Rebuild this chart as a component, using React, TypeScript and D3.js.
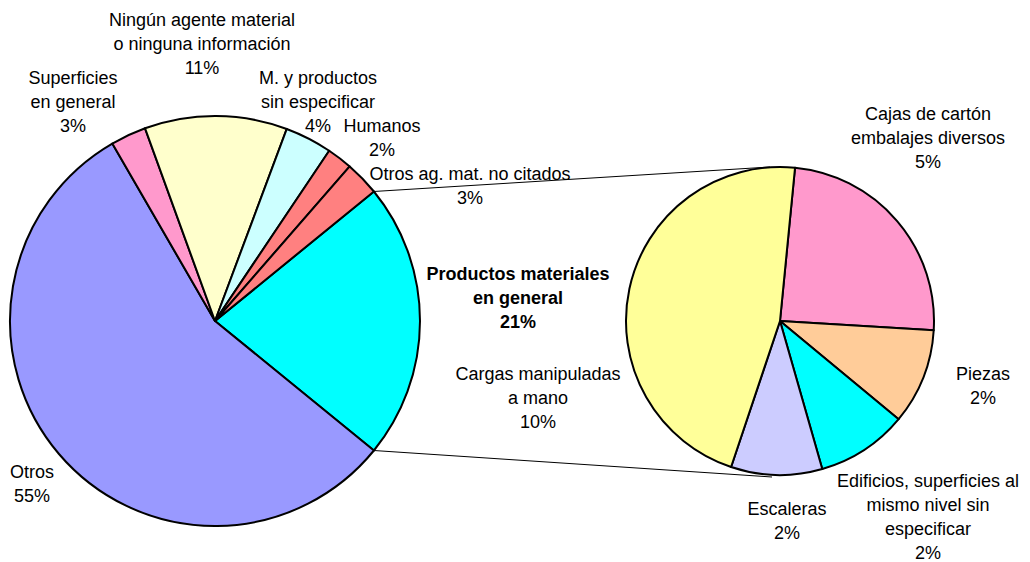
import React from "react";
import * as d3 from "d3";

// Main pie (clockwise from the split slice)
const mainCategories = [
  "Productos materiales en general",
  "Otros",
  "Superficies en general",
  "Ningún agente material o ninguna información",
  "M. y productos sin especificar",
  "Humanos",
  "Otros ag. mat. no citados",
];
const mainValues = [21.7, 55.6, 2.8, 11.2, 3.7, 2.0, 2.7];
const mainColors = ["#00FFFF", "#9999FF", "#FF99CC", "#FFFFCC", "#CCFFFF", "#FF8080", "#FF8080"];

// Secondary pie (breakdown of "Productos materiales en general")
const subCategories = [
  "Cajas de cartón embalajes diversos",
  "Piezas",
  "Edificios, superficies al mismo nivel sin especificar",
  "Escaleras",
  "Cargas manipuladas a mano",
];
const subValues = [5.1, 2.1, 2.0, 2.0, 9.7];
const subColors = ["#FF99CC", "#FFCC99", "#00FFFF", "#CCCCFF", "#FFFF99"];

// Label texts (lines) and anchor positions
const mainLabels = [
  { lines: ["Productos materiales", "en general", "21%"], x: 518, y: 280, bold: true },
  { lines: ["Otros", "55%"], x: 32, y: 478 },
  { lines: ["Superficies", "en general", "3%"], x: 73, y: 84 },
  { lines: ["Ningún agente material", "o ninguna información", "11%"], x: 202, y: 26 },
  { lines: ["M. y productos", "sin especificar", "4%"], x: 318, y: 84 },
  { lines: ["Humanos", "2%"], x: 382, y: 132 },
  { lines: ["Otros ag. mat. no citados", "3%"], x: 470, y: 180 },
];
const subLabels = [
  { lines: ["Cajas de cartón", "embalajes diversos", "5%"], x: 928, y: 120 },
  { lines: ["Piezas", "2%"], x: 983, y: 380 },
  { lines: ["Edificios, superficies al", "mismo nivel sin", "especificar", "2%"], x: 928, y: 487 },
  { lines: ["Escaleras", "2%"], x: 787, y: 515 },
  { lines: ["Cargas manipuladas", "a mano", "10%"], x: 538, y: 380 },
];

const W = 1030;
const H = 562;
const deg = Math.PI / 180;

export default function App() {
  const mainC = { x: 215, y: 321, r: 205 };
  const subC = { x: 780, y: 321, r: 154 };

  const totalMain = d3.sum(mainValues);
  const splitSpan = (mainValues[0] / totalMain) * 2 * Math.PI;
  const mainStart = Math.PI / 2 - splitSpan / 2;

  const mainPie = d3.pie<number>().sort(null).startAngle(mainStart).endAngle(mainStart + 2 * Math.PI);
  const subPie = d3.pie<number>().sort(null).startAngle(5.6 * deg).endAngle(5.6 * deg + 2 * Math.PI);

  const mainArcs = mainPie(mainValues);
  const subArcs = subPie(subValues);

  const mainArc = d3.arc<d3.PieArcDatum<number>>().innerRadius(0).outerRadius(mainC.r);
  const subArc = d3.arc<d3.PieArcDatum<number>>().innerRadius(0).outerRadius(subC.r);

  const pt = (c: { x: number; y: number; r: number }, a: number) => [
    c.x + c.r * Math.sin(a),
    c.y - c.r * Math.cos(a),
  ];
  const splitA = mainArcs[0];
  const p1 = pt(mainC, splitA.startAngle);
  const p2 = pt(mainC, splitA.endAngle);
  const q1 = [subC.x - 10, subC.y - subC.r];
  const q2 = [subC.x - 8, subC.y + subC.r + 2];

  const font = "'Liberation Sans', Arial, sans-serif";
  const renderLabel = (l: any, i: number) => (
    <text
      key={i}
      x={l.x}
      y={l.y}
      textAnchor="middle"
      fontFamily={font}
      fontSize={18}
      fontWeight={l.bold ? "bold" : "normal"}
      fill="#000"
    >
      {l.lines.map((s: string, j: number) => (
        <tspan key={j} x={l.x} y={l.y + j * 24}>
          {s}
        </tspan>
      ))}
    </text>
  );

  return (
    <svg
      width={W}
      height={H}
      style={{ position: "absolute", left: 0, top: 0, background: "#fff" }}
    >
      <rect width={W} height={H} fill="#fff" />
      <line x1={p1[0]} y1={p1[1]} x2={q1[0]} y2={q1[1]} stroke="#000" strokeWidth={1} />
      <line x1={p2[0]} y1={p2[1]} x2={q2[0]} y2={q2[1]} stroke="#000" strokeWidth={1} />
      <g transform={`translate(${mainC.x},${mainC.y})`}>
        {mainArcs.map((a, i) => (
          <path key={i} d={mainArc(a) || ""} fill={mainColors[i]} stroke="#000" strokeWidth={2} strokeLinejoin="round">
            <title>{mainCategories[i]}</title>
          </path>
        ))}
      </g>
      <g transform={`translate(${subC.x},${subC.y})`}>
        {subArcs.map((a, i) => (
          <path key={i} d={subArc(a) || ""} fill={subColors[i]} stroke="#000" strokeWidth={2} strokeLinejoin="round">
            <title>{subCategories[i]}</title>
          </path>
        ))}
      </g>
      {mainLabels.map(renderLabel)}
      {subLabels.map((l, i) => renderLabel(l, i + 100))}
    </svg>
  );
}
